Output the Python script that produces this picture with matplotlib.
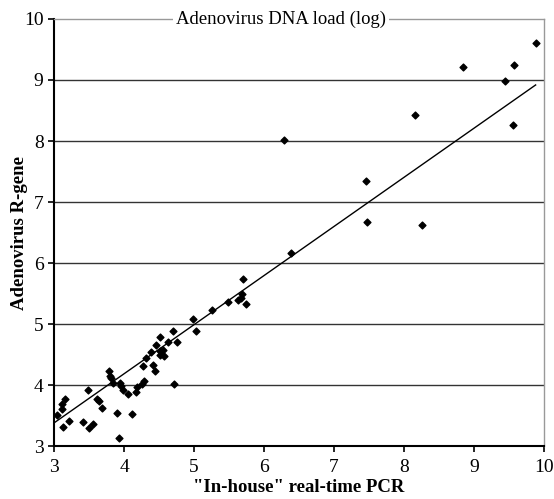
import numpy as np
import matplotlib.pyplot as plt

# "In-house" real-time PCR (log) vs Adenovirus R-gene (log)
pcr_inhouse = [3.04, 3.11, 3.12, 3.16, 3.13, 3.22, 3.41, 3.49, 3.50, 3.55,
               3.61, 3.64, 3.68, 3.79, 3.80, 3.81, 3.84, 3.90, 3.93, 3.94,
               3.96, 3.98, 4.05, 4.11, 4.17, 4.18, 4.25, 4.28, 4.27, 4.31,
               4.38, 4.41, 4.44, 4.45, 4.51, 4.52, 4.51, 4.57, 4.55, 4.63,
               4.70, 4.71, 4.76, 5.03, 4.99, 5.26, 5.49, 5.63, 5.67, 5.69,
               5.70, 5.74, 6.39, 6.29, 7.46, 7.47, 8.26, 8.16, 8.84, 9.44,
               9.57, 9.55, 9.88]
r_gene = [3.51, 3.60, 3.69, 3.78, 3.32, 3.41, 3.40, 3.92, 3.29, 3.36,
          3.77, 3.74, 3.63, 4.23, 4.15, 4.11, 4.03, 3.55, 3.14, 4.03,
          3.98, 3.92, 3.85, 3.52, 3.89, 3.97, 4.01, 4.07, 4.31, 4.45,
          4.55, 4.33, 4.23, 4.66, 4.56, 4.78, 4.49, 4.48, 4.58, 4.71,
          4.88, 4.01, 4.70, 4.89, 5.09, 5.23, 5.36, 5.40, 5.42, 5.50,
          5.74, 5.33, 6.16, 8.01, 7.34, 6.67, 6.62, 8.42, 9.21, 8.99,
          9.25, 8.26, 9.60]

# trend line as shown on the chart
trend_slope = 0.805
trend_intercept = 0.965
trend_range = [3, 9.88]

x_ticks = [3, 4, 5, 6, 7, 8, 9, 10]
y_ticks = [3, 4, 5, 6, 7, 8, 9, 10]

plt.rcParams['font.family'] = ['Liberation Serif', 'DejaVu Serif']

fig = plt.figure(figsize=(5.54, 4.99), dpi=100)
ax = fig.add_axes([0.0975, 0.106, 0.8845, 0.856])

ax.set_xlim(3, 10)
ax.set_ylim(3, 10)

# gridlines
for yv in y_ticks[1:-1]:
    ax.axhline(yv, color='#333333', linewidth=1.0, zorder=1)

ax.scatter(pcr_inhouse, r_gene, marker='D', s=12, color='black', zorder=3)

xl = np.array(trend_range)
ax.plot(xl, trend_slope * xl + trend_intercept, color='black', linewidth=1.0, zorder=2)

ax.set_xticks(x_ticks)
ax.set_yticks(y_ticks)
ax.tick_params(labelsize=14, direction='out', length=4, width=1.2, colors='black')
ax.tick_params(axis='x', pad=5)

for side in ['top', 'right']:
    ax.spines[side].set_color('#999999')
    ax.spines[side].set_linewidth(1.0)
for side in ['left', 'bottom']:
    ax.spines[side].set_color('black')
    ax.spines[side].set_linewidth(1.5)

ax.set_xlabel('"In-house" real-time PCR', fontsize=13.5, fontweight='bold')
ax.xaxis.set_label_coords(0.5, -0.078)
ax.set_ylabel('Adenovirus R-gene', fontsize=13.5, fontweight='bold')
ax.yaxis.set_label_coords(-0.054, 0.5)

ax.text(0.463, 1.0, 'Adenovirus DNA load (log)', transform=ax.transAxes,
        ha='center', va='center', fontsize=13.5,
        bbox=dict(facecolor='white', edgecolor='none', pad=2), zorder=5)

plt.savefig('out.png', dpi=100)
